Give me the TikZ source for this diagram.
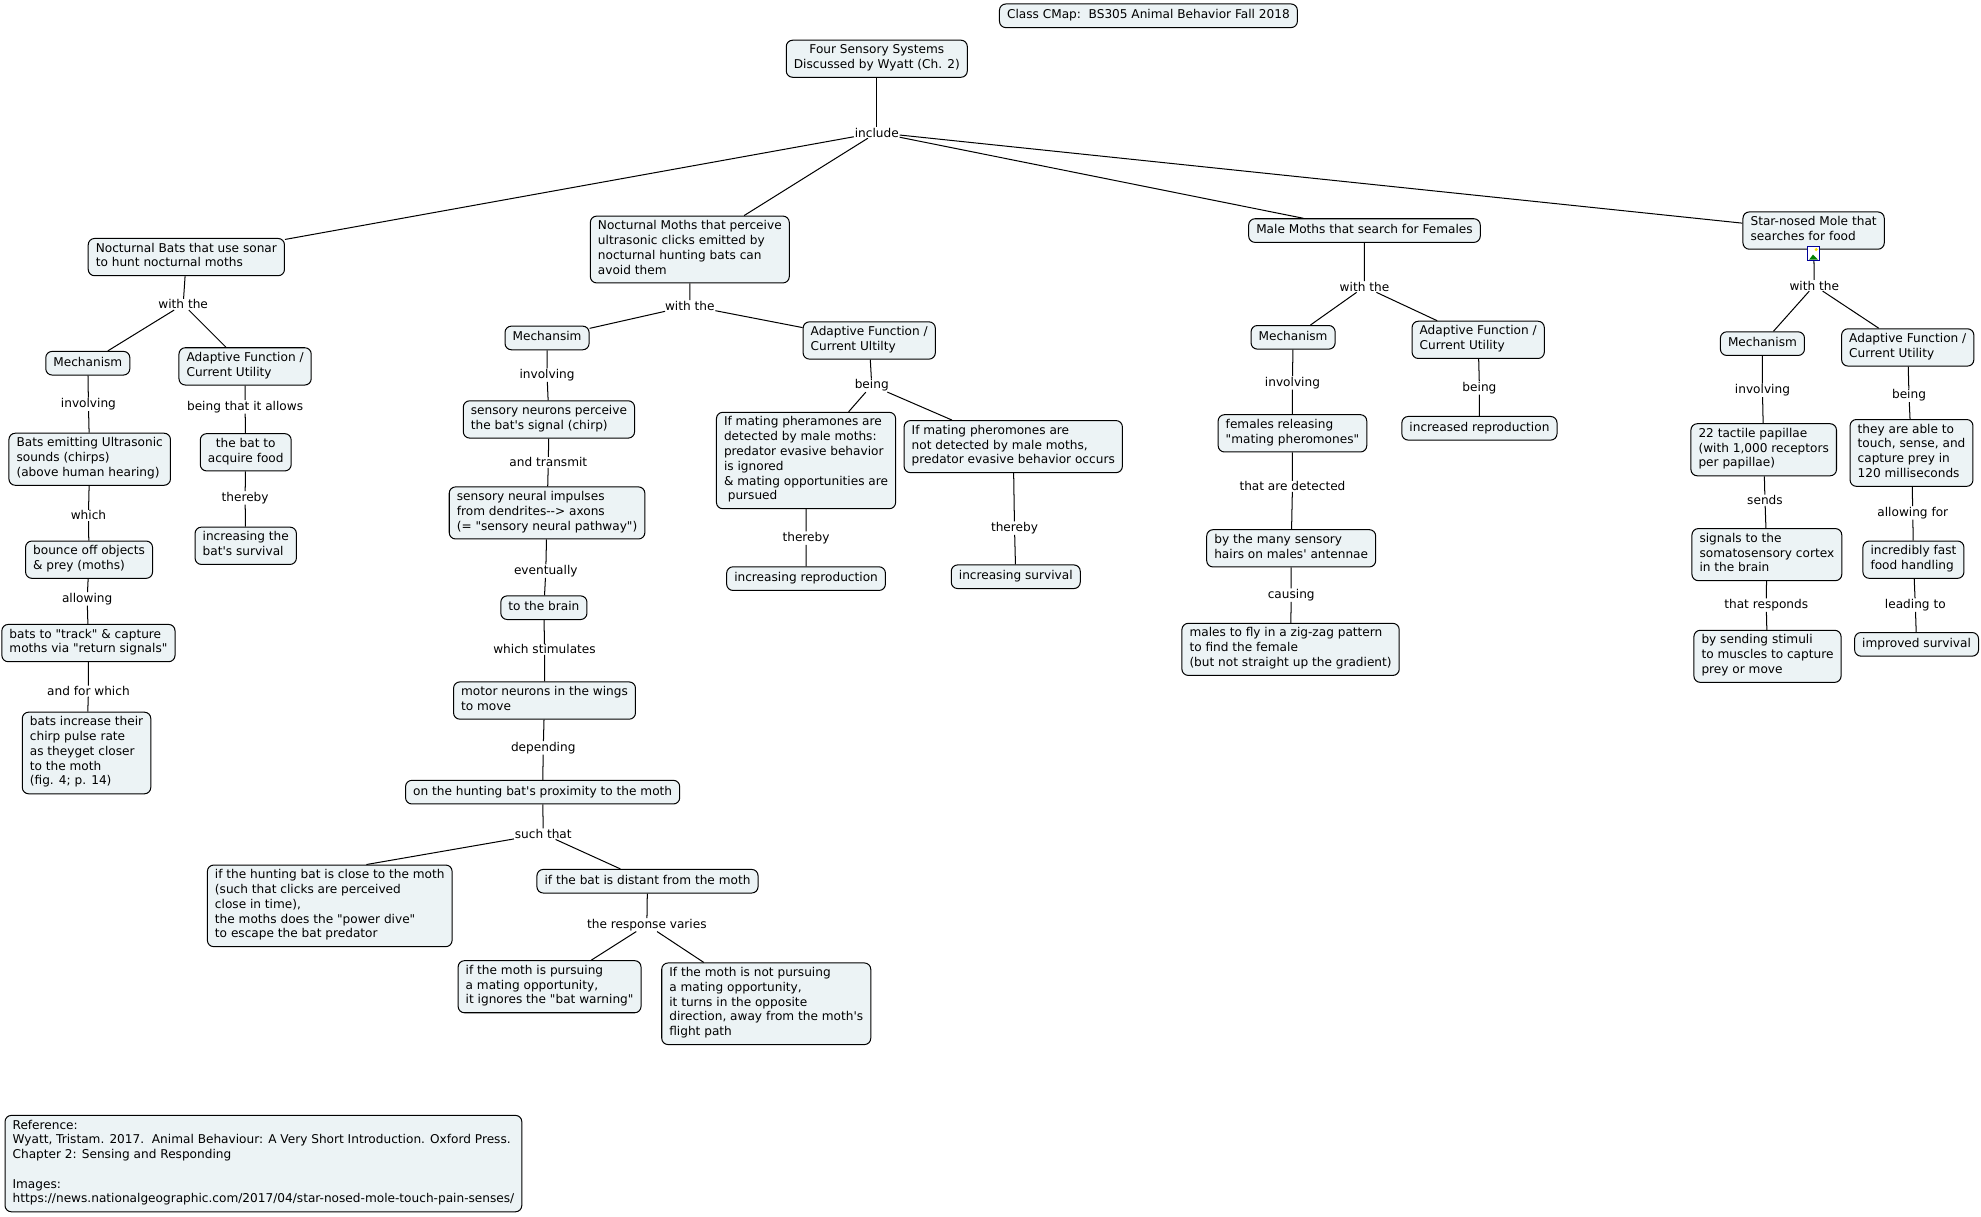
\documentclass[tikz,border=0pt]{standalone}
\usepackage{fontspec}
\usepackage{tikz}
\newfontfamily\cmapfont[Ligatures=TeXReset]{DejaVu Sans}
\definecolor{cmapfill}{RGB}{236,243,245}
\tikzset{
	concept/.style={draw, line width=0.8pt, rounded corners=5pt, fill=cmapfill, align=left,
		inner xsep=6pt, inner ysep=3.5pt, font=\cmapfont\fontsize{9.6pt}{11.7pt}\selectfont,
		execute at begin node=\strut, execute at end node=\strut},
	link/.style={inner sep=0.5pt, font=\cmapfont\fontsize{9.6pt}{11.7pt}\selectfont},
	conn/.style={line width=0.8pt}
}

\begin{document}
\begin{tikzpicture}[x=1pt,y=-1pt]
		\useasboundingbox (0,0) rectangle (1568,962.5);
		
		\node[concept] (title) at (909,12.5) {Class CMap:\ \ BS305 Animal Behavior Fall 2018};
		\node[concept, align=center] (root) at (694,46.5) {Four Sensory Systems\\Discussed by Wyatt (Ch. 2)};
		\node[link] (include) at (694,105) {include};
		
		\node[concept] (bats) at (147.5,203.5) {Nocturnal Bats that use sonar\\to hunt nocturnal moths};
		\node[concept] (moths) at (546,197.5) {Nocturnal Moths that perceive\\ultrasonic clicks emitted by\\nocturnal hunting bats can\\avoid them};
		\node[concept] (males) at (1080,182.5) {Male Moths that search for Females};
		\node[concept] (mole) at (1435.5,182.5) {Star-nosed Mole that\\searches for food};
		
		% bats
		\node[link] (batWith) at (145,241) {with the};
		\node[concept] (batMech) at (69.5,287.5) {Mechanism};
		\node[concept] (batAdapt) at (194,290) {Adaptive Function /\\Current Utility};
		\node[link] (batInv) at (70,320) {involving};
		\node[link] (batAllows) at (194,322) {being that it allows};
		\node[concept] (batEmit) at (71,363.5) {Bats emitting Ultrasonic\\sounds (chirps)\\(above human hearing)};
		\node[link] (batWhich) at (70,408) {which};
		\node[concept] (batBounce) at (70.5,443) {bounce off objects\\\& prey (moths)};
		\node[link] (batAllowing) at (69,474) {allowing};
		\node[concept] (batTrack) at (70,509) {bats to "track" \& capture\\moths via "return signals"};
		\node[link] (batForWhich) at (70,547) {and for which};
		\node[concept] (batRate) at (68.5,596) {bats increase their\\chirp pulse rate\\as theyget closer\\to the moth\\(fig. 4; p. 14)};
		\node[concept, align=center] (batFood) at (194.5,358) {the bat to\\acquire food};
		\node[link] (batThereby) at (194,394) {thereby};
		\node[concept] (batSurv) at (194.5,432) {increasing the\\bat's survival};
		
		% nocturnal moths
		\node[link] (mothWith) at (546,242) {with the};
		\node[concept] (mothMech) at (433,267.5) {Mechansim};
		\node[concept] (mothAdapt) at (688,269.5) {Adaptive Function /\\Current Ultilty};
		\node[link] (mothInv) at (433,297) {involving};
		\node[concept] (mothNeur) at (434.5,332) {sensory neurons perceive\\the bat's signal (chirp)};
		\node[link] (mothTrans) at (434,366) {and transmit};
		\node[concept] (mothImp) at (433,406) {sensory neural impulses\\from dendrites--> axons\\(= "sensory neural pathway")};
		\node[link] (mothEvent) at (432,452) {eventually};
		\node[concept] (mothBrain) at (430.5,481) {to the brain};
		\node[link] (mothStim) at (431,514) {which stimulates};
		\node[concept] (mothMotor) at (431,554.5) {motor neurons in the wings\\to move};
		\node[link] (mothDep) at (430,592) {depending};
		\node[concept] (mothProx) at (429.5,627) {on the hunting bat's proximity to the moth};
		\node[link] (mothSuch) at (430,660) {such that};
		\node[concept] (mothClose) at (261,717) {if the hunting bat is close to the moth\\(such that clicks are perceived\\close in time),\\the moths does the "power dive"\\to escape the bat predator};
		\node[concept] (mothFar) at (512.5,697.5) {if the bat is distant from the moth};
		\node[link] (mothVar) at (512,732) {the response varies};
		\node[concept] (mothPursue) at (435,781) {if the moth is pursuing\\a mating opportunity,\\it ignores the "bat warning"};
		\node[concept] (mothTurn) at (606.5,794.5) {If the moth is not pursuing\\a mating opportunity,\\it turns in the opposite\\direction, away from the moth's\\flight path};
		\node[link] (mothBeing) at (690,305) {being};
		\node[concept] (mothDet) at (638,364.5) {If mating pheramones are\\detected by male moths:\\predator evasive behavior\\is ignored\\\& mating opportunities are\\\hspace*{3pt}pursued};
		\node[concept] (mothNot) at (802,353.5) {If mating pheromones are\\not detected by male moths,\\predator evasive behavior occurs};
		\node[link] (mothThereA) at (638,426) {thereby};
		\node[link] (mothThereB) at (803,418) {thereby};
		\node[concept] (mothRepro) at (638,458) {increasing reproduction};
		\node[concept] (mothSurv) at (804,456.5) {increasing survival};
		
		% male moths
		\node[link] (maleWith) at (1080,227) {with the};
		\node[concept] (maleMech) at (1023.5,267) {Mechanism};
		\node[concept] (maleAdapt) at (1170,269) {Adaptive Function /\\Current Utility};
		\node[link] (maleInv) at (1023,303) {involving};
		\node[link] (maleBeing) at (1171,307) {being};
		\node[concept] (maleFem) at (1023,343) {females releasing\\"mating pheromones"};
		\node[concept] (maleRepro) at (1171,339) {increased reproduction};
		\node[link] (maleDet) at (1023,385) {that are detected};
		\node[concept] (maleHairs) at (1022,434) {by the many sensory\\hairs on males' antennae};
		\node[link] (maleCause) at (1022,471) {causing};
		\node[concept] (maleZig) at (1021.5,514) {males to fly in a zig-zag pattern\\to find the female\\(but not straight up the gradient)};
		
		% star-nosed mole
		\node[link] (moleWith) at (1436,226) {with the};
		\node[concept] (moleMech) at (1395,272) {Mechanism};
		\node[concept] (moleAdapt) at (1510,275) {Adaptive Function /\\Current Utility};
		\node[link] (moleInv) at (1395,309) {involving};
		\node[link] (moleBeing) at (1511,313) {being};
		\node[concept] (molePap) at (1396,356) {22 tactile papillae\\(with 1,000 receptors\\per papillae)};
		\node[concept] (moleAble) at (1513,358.5) {they are able to\\touch, sense, and\\capture prey in\\120 milliseconds};
		\node[link] (moleSends) at (1397,396) {sends};
		\node[link] (moleAllow) at (1514,406) {allowing for};
		\node[concept] (moleSig) at (1398.5,439) {signals to the\\somatosensory cortex\\in the brain};
		\node[concept] (moleFast) at (1514.5,443) {incredibly fast\\food handling};
		\node[link] (moleResp) at (1398,479) {that responds};
		\node[link] (moleLead) at (1516,479) {leading to};
		\node[concept] (moleStim) at (1399,519.5) {by sending stimuli\\to muscles to capture\\prey or move};
		\node[concept] (moleSurv) at (1517,510) {improved survival};
		
		\node[concept] (refs) at (208.5,921) {Reference:\\Wyatt, Tristam. 2017.\ \ Animal Behaviour: A Very Short Introduction. Oxford Press.\\Chapter 2: Sensing and Responding\\[11.7pt]Images:\\https://news.nationalgeographic.com/2017/04/star-nosed-mole-touch-pain-senses/};
		
		% connections
		\draw[conn] (root) -- (include);
		\draw[conn] (include) -- (bats) (include) -- (moths) (include) -- (males) (include) -- (mole);
		
		\draw[conn] (bats) -- (batWith) -- (batMech) -- (batInv) -- (batEmit) -- (batWhich) -- (batBounce) -- (batAllowing) -- (batTrack) -- (batForWhich) -- (batRate);
		\draw[conn] (batWith) -- (batAdapt) -- (batAllows) -- (batFood) -- (batThereby) -- (batSurv);
		
		\draw[conn] (moths) -- (mothWith) -- (mothMech) -- (mothInv) -- (mothNeur) -- (mothTrans) -- (mothImp) -- (mothEvent) -- (mothBrain) -- (mothStim) -- (mothMotor) -- (mothDep) -- (mothProx) -- (mothSuch);
		\draw[conn] (mothSuch) -- ([xshift=29pt]mothClose.north);
		\draw[conn] (mothSuch) -- (mothFar) -- (mothVar) -- (mothPursue) (mothVar) -- (mothTurn);
		\draw[conn] (mothWith) -- (mothAdapt) -- (mothBeing) -- (mothDet) -- (mothThereA) -- (mothRepro);
		\draw[conn] (mothBeing) -- (mothNot) -- (mothThereB) -- (mothSurv);
		
		\draw[conn] (males) -- (maleWith) -- (maleMech) -- (maleInv) -- (maleFem) -- (maleDet) -- (maleHairs) -- (maleCause) -- (maleZig);
		\draw[conn] (maleWith) -- (maleAdapt) -- (maleBeing) -- (maleRepro);
		
		\draw[conn] (mole) -- (moleWith) -- (moleMech) -- (moleInv) -- (molePap) -- (moleSends) -- (moleSig) -- (moleResp) -- (moleStim);
		\draw[conn] (moleWith) -- (moleAdapt) -- (moleBeing) -- (moleAble) -- (moleAllow) -- (moleFast) -- (moleLead) -- (moleSurv);
		
		% image icon on the mole
		\node[draw=blue!60!black, fill=white, line width=0.8pt, minimum width=9pt, minimum height=11pt, inner sep=0pt] (molePic) at (1435.5,200.5) {};
		\fill[green!50!black] (1432,205.5) -- (1435,201.5) -- (1439,205.5) -- cycle;
		\fill[yellow!80!orange] (1437.5,197.5) circle (1.3);
\end{tikzpicture}
\end{document}
